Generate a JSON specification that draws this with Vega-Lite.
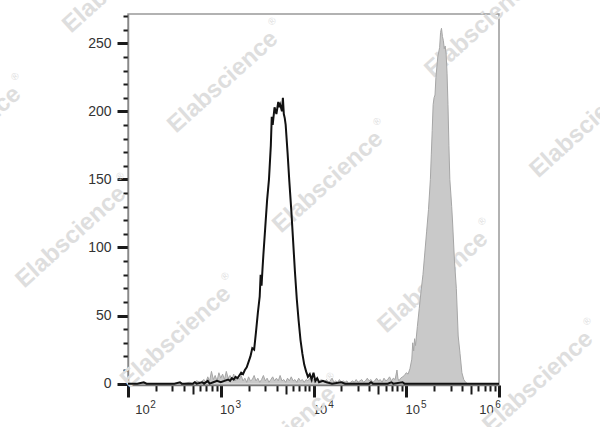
{
  "$schema": "https://vega.github.io/schema/vega-lite/v6.json",
  "width": 371,
  "height": 371,
  "autosize": {"type": "none"},
  "padding": {"left": 128, "top": 14, "right": 101, "bottom": 42},
  "background": "white",
  "config": {
    "view": {"stroke": "#999999", "strokeWidth": 1.5},
    "font": "Liberation Sans"
  },
  "resolve": {"axis": {"x": "independent"}},
  "datasets": {
    "marks": [
      {"x": 78, "count": 295}, {"x": 1.79, "count": 181}, {"x": 1057, "count": 221.5},
      {"x": 14330, "count": 148}, {"x": 194300, "count": 74.6}, {"x": 2633000, "count": 1.2},
      {"x": 24.3, "count": 107.7}, {"x": 329, "count": 34.3}, {"x": 4462, "count": -39.2},
      {"x": 624000, "count": 262}, {"x": 8457000, "count": 188.5}
    ],
    "stained": [
      {"x": 100, "count": 0}, {"x": 398.1, "count": 0}, {"x": 457.1, "count": 1}, {"x": 501.2, "count": 0},
      {"x": 549.5, "count": 2}, {"x": 602.6, "count": 1}, {"x": 660.7, "count": 3}, {"x": 691.8, "count": 1},
      {"x": 724.4, "count": 5}, {"x": 758.6, "count": 2}, {"x": 794.3, "count": 9}, {"x": 831.8, "count": 3},
      {"x": 871.0, "count": 6}, {"x": 912.0, "count": 2}, {"x": 955.0, "count": 8}, {"x": 1000, "count": 4},
      {"x": 1047, "count": 7}, {"x": 1096, "count": 3}, {"x": 1148, "count": 9}, {"x": 1202, "count": 4},
      {"x": 1259, "count": 6}, {"x": 1318, "count": 3}, {"x": 1380, "count": 7}, {"x": 1445, "count": 2},
      {"x": 1514, "count": 5}, {"x": 1585, "count": 3}, {"x": 1660, "count": 6}, {"x": 1738, "count": 2},
      {"x": 1820, "count": 4}, {"x": 1905, "count": 1}, {"x": 1995, "count": 5}, {"x": 2089, "count": 2},
      {"x": 2188, "count": 3}, {"x": 2291, "count": 6}, {"x": 2399, "count": 2}, {"x": 2512, "count": 4},
      {"x": 2630, "count": 1}, {"x": 2754, "count": 3}, {"x": 2884, "count": 6}, {"x": 3020, "count": 2},
      {"x": 3162, "count": 4}, {"x": 3311, "count": 1}, {"x": 3467, "count": 3}, {"x": 3631, "count": 5},
      {"x": 3802, "count": 2}, {"x": 3981, "count": 4}, {"x": 4169, "count": 2}, {"x": 4365, "count": 6},
      {"x": 4571, "count": 2}, {"x": 4786, "count": 3}, {"x": 5012, "count": 1}, {"x": 5248, "count": 4},
      {"x": 5495, "count": 2}, {"x": 5754, "count": 5}, {"x": 6026, "count": 2}, {"x": 6310, "count": 3},
      {"x": 6607, "count": 1}, {"x": 6918, "count": 4}, {"x": 7244, "count": 2}, {"x": 7586, "count": 3},
      {"x": 7943, "count": 1}, {"x": 8318, "count": 3}, {"x": 8710, "count": 2}, {"x": 9120, "count": 4},
      {"x": 9550, "count": 1}, {"x": 10000, "count": 3}, {"x": 10470, "count": 2}, {"x": 10960, "count": 4},
      {"x": 11480, "count": 1}, {"x": 12020, "count": 3}, {"x": 12590, "count": 2}, {"x": 13180, "count": 1},
      {"x": 13800, "count": 3}, {"x": 14450, "count": 1}, {"x": 15140, "count": 2}, {"x": 15850, "count": 4},
      {"x": 16600, "count": 1}, {"x": 17380, "count": 2}, {"x": 18200, "count": 1}, {"x": 19050, "count": 3},
      {"x": 19950, "count": 1}, {"x": 20890, "count": 2}, {"x": 21880, "count": 1}, {"x": 22910, "count": 2},
      {"x": 23990, "count": 0}, {"x": 25120, "count": 1}, {"x": 26300, "count": 2}, {"x": 27540, "count": 1},
      {"x": 28840, "count": 3}, {"x": 30200, "count": 1}, {"x": 31620, "count": 2}, {"x": 33110, "count": 3},
      {"x": 34670, "count": 1}, {"x": 36310, "count": 2}, {"x": 38020, "count": 4}, {"x": 39810, "count": 2},
      {"x": 41690, "count": 3}, {"x": 43650, "count": 1}, {"x": 45710, "count": 2}, {"x": 47860, "count": 4},
      {"x": 50120, "count": 2}, {"x": 52480, "count": 3}, {"x": 54950, "count": 1}, {"x": 57540, "count": 4},
      {"x": 60260, "count": 2}, {"x": 63100, "count": 3}, {"x": 66070, "count": 5}, {"x": 69180, "count": 2},
      {"x": 72440, "count": 4}, {"x": 75860, "count": 3}, {"x": 79430, "count": 10}, {"x": 81280, "count": 4},
      {"x": 83180, "count": 2}, {"x": 87100, "count": 4}, {"x": 91200, "count": 5}, {"x": 95500, "count": 6},
      {"x": 100000, "count": 8}, {"x": 104700, "count": 7}, {"x": 109600, "count": 11}, {"x": 114800, "count": 18},
      {"x": 117500, "count": 30}, {"x": 120200, "count": 24}, {"x": 123000, "count": 33}, {"x": 125900, "count": 28},
      {"x": 131800, "count": 42}, {"x": 138000, "count": 55}, {"x": 144500, "count": 68}, {"x": 151400, "count": 80},
      {"x": 158500, "count": 96}, {"x": 166000, "count": 112}, {"x": 173800, "count": 128}, {"x": 182000, "count": 150},
      {"x": 186200, "count": 168}, {"x": 190500, "count": 186}, {"x": 195000, "count": 205}, {"x": 199500, "count": 210},
      {"x": 204200, "count": 212}, {"x": 208900, "count": 225}, {"x": 218800, "count": 240}, {"x": 229100, "count": 247},
      {"x": 234400, "count": 258}, {"x": 239900, "count": 261}, {"x": 245500, "count": 255}, {"x": 251200, "count": 252},
      {"x": 257000, "count": 246}, {"x": 263000, "count": 248}, {"x": 269200, "count": 242}, {"x": 275400, "count": 228},
      {"x": 281800, "count": 205}, {"x": 288400, "count": 175}, {"x": 295100, "count": 150}, {"x": 302000, "count": 140},
      {"x": 309000, "count": 130}, {"x": 316200, "count": 118}, {"x": 331100, "count": 90}, {"x": 346700, "count": 70},
      {"x": 363100, "count": 35}, {"x": 380200, "count": 22}, {"x": 398100, "count": 8}, {"x": 416900, "count": 3},
      {"x": 436500, "count": 1}, {"x": 457100, "count": 0}, {"x": 1000000, "count": 0}
    ],
    "control": [
      {"x": 100, "count": 0}, {"x": 125.9, "count": 0}, {"x": 147.9, "count": 1}, {"x": 158.5, "count": 0},
      {"x": 316.2, "count": 0}, {"x": 363.1, "count": 1}, {"x": 380.2, "count": 0}, {"x": 501.2, "count": 0},
      {"x": 524.8, "count": 1}, {"x": 549.5, "count": 0}, {"x": 631.0, "count": 1}, {"x": 660.7, "count": 0},
      {"x": 724.4, "count": 2}, {"x": 758.6, "count": 0}, {"x": 831.8, "count": 1}, {"x": 912.0, "count": 2},
      {"x": 1000, "count": 1}, {"x": 1096, "count": 2}, {"x": 1202, "count": 3}, {"x": 1259, "count": 2},
      {"x": 1318, "count": 4}, {"x": 1380, "count": 3}, {"x": 1445, "count": 5}, {"x": 1514, "count": 4},
      {"x": 1585, "count": 6}, {"x": 1660, "count": 8}, {"x": 1738, "count": 7}, {"x": 1820, "count": 10},
      {"x": 1905, "count": 12}, {"x": 1995, "count": 16}, {"x": 2089, "count": 20}, {"x": 2188, "count": 26},
      {"x": 2291, "count": 25}, {"x": 2399, "count": 38}, {"x": 2512, "count": 52}, {"x": 2630, "count": 64},
      {"x": 2692, "count": 80}, {"x": 2754, "count": 72}, {"x": 2818, "count": 84}, {"x": 2884, "count": 95},
      {"x": 3020, "count": 115}, {"x": 3162, "count": 135}, {"x": 3311, "count": 150}, {"x": 3467, "count": 175},
      {"x": 3548, "count": 196}, {"x": 3631, "count": 190}, {"x": 3802, "count": 203}, {"x": 3981, "count": 198},
      {"x": 4169, "count": 207}, {"x": 4266, "count": 203}, {"x": 4365, "count": 205}, {"x": 4571, "count": 200},
      {"x": 4677, "count": 210}, {"x": 4786, "count": 198}, {"x": 4898, "count": 195}, {"x": 5012, "count": 190},
      {"x": 5248, "count": 170}, {"x": 5495, "count": 148}, {"x": 5754, "count": 128}, {"x": 6026, "count": 105},
      {"x": 6310, "count": 82}, {"x": 6607, "count": 62}, {"x": 6918, "count": 46}, {"x": 7244, "count": 32},
      {"x": 7586, "count": 22}, {"x": 7943, "count": 14}, {"x": 8318, "count": 9}, {"x": 8710, "count": 5},
      {"x": 9120, "count": 7}, {"x": 9550, "count": 3}, {"x": 10000, "count": 8}, {"x": 10470, "count": 2},
      {"x": 10960, "count": 4}, {"x": 11480, "count": 1}, {"x": 12590, "count": 2}, {"x": 13800, "count": 1},
      {"x": 15850, "count": 0}, {"x": 19950, "count": 1}, {"x": 21880, "count": 0}, {"x": 39810, "count": 0},
      {"x": 41690, "count": 1}, {"x": 43650, "count": 0}, {"x": 63100, "count": 0}, {"x": 69180, "count": 1},
      {"x": 72440, "count": 0}, {"x": 91200, "count": 1}, {"x": 95500, "count": 0}, {"x": 1000000, "count": 0}
    ]
  },
  "encoding": {
    "x": {
      "field": "x", "type": "quantitative",
      "scale": {"type": "log", "domain": [100, 1000000], "nice": false},
      "axis": {
        "orient": "bottom",
        "title": null, "grid": false,
        "values": [100, 200, 300, 400, 500, 600, 700, 800, 900, 1000, 2000, 3000, 4000, 5000, 6000, 7000, 8000, 9000, 10000, 20000, 30000, 40000, 50000, 60000, 70000, 80000, 90000, 100000, 200000, 300000, 400000, 500000, 600000, 700000, 800000, 900000, 1000000],
        "labelExpr": "indexof([100,1000,10000,100000,1000000], datum.value) >= 0 ? '10' : ''",
        "tickSize": {"condition": [{"test": "indexof([100,1000,10000,100000,1000000], datum.value) >= 0", "value": 12}, {"test": "indexof([500,5000,50000,500000], datum.value) >= 0", "value": 9}], "value": 6},
        "tickWidth": {"condition": {"test": "indexof([100,1000,10000,100000,1000000], datum.value) >= 0", "value": 3}, "value": 2},
        "tickColor": "#1a1a1a",
        "domainColor": "#777777", "domainWidth": 1.5,
        "labelOffset": {"condition": [{"test": "datum.value == 100", "value": 14}, {"test": "datum.value == 1000000", "value": -13}], "value": 6},
        "labelPadding": 6,
        "labelFont": "Liberation Sans", "labelFontSize": 13, "labelColor": "#333333",
        "labelOverlap": false, "labelFlush": false, "labelBound": false
      }
    },
    "y": {
      "field": "count", "type": "quantitative",
      "scale": {"domain": [-1, 271.5], "nice": false, "zero": false},
      "axis": {
        "title": null, "grid": false,
        "values": [0, 10, 20, 30, 40, 50, 60, 70, 80, 90, 100, 110, 120, 130, 140, 150, 160, 170, 180, 190, 200, 210, 220, 230, 240, 250, 260, 270],
        "labelExpr": "datum.value % 50 == 0 ? datum.label : ''",
        "tickSize": {"condition": {"test": "datum.value % 50 == 0", "value": 11}, "value": 5},
        "tickWidth": {"condition": {"test": "datum.value % 50 == 0", "value": 3}, "value": 2},
        "tickColor": "#1a1a1a",
        "domainColor": "#888888", "domainWidth": 1.5,
        "labelPadding": 6,
        "labelFont": "Liberation Sans", "labelFontSize": 14, "labelColor": "#333333",
        "labelOverlap": false
      }
    }
  },
  "layer": [
    {
      "data": {"name": "marks"},
      "encoding": {"x": {"field": "x", "type": "quantitative", "scale": {"type": "log", "domain": [100, 1000000], "nice": false}, "axis": null}},
      "mark": {"type": "text", "text": "Elabscience", "angle": -42, "align": "center", "baseline": "middle", "font": "Liberation Sans", "fontWeight": "bold", "fontSize": 24, "color": "#dedede"}
    },
    {
      "data": {"name": "marks"},
      "encoding": {"x": {"field": "x", "type": "quantitative", "scale": {"type": "log", "domain": [100, 1000000], "nice": false}, "axis": null}},
      "mark": {"type": "text", "text": "®", "angle": -42, "align": "center", "baseline": "middle", "font": "Liberation Sans", "fontSize": 10, "dx": 77, "dy": -12, "color": "#dedede"}
    },
    {
      "data": {"name": "stained"},
      "mark": {"type": "area", "color": "#c9c9c9", "interpolate": "linear"}
    },
    {
      "data": {"name": "stained"},
      "encoding": {"x": {"field": "x", "type": "quantitative", "scale": {"type": "log", "domain": [100, 1000000], "nice": false}, "axis": null}},
      "mark": {"type": "line", "color": "#a6a6a6", "strokeWidth": 1, "interpolate": "linear"}
    },
    {
      "data": {"name": "control"},
      "encoding": {"x": {"field": "x", "type": "quantitative", "scale": {"type": "log", "domain": [100, 1000000], "nice": false},
        "axis": {
          "orient": "bottom",
          "title": null, "grid": false, "domain": false, "ticks": false,
          "values": [100, 1000, 10000, 100000, 1000000],
          "labelExpr": "datum.value == 100 ? '2' : datum.value == 1000 ? '3' : datum.value == 10000 ? '4' : datum.value == 100000 ? '5' : '6'",
          "labelOffset": {"condition": [{"test": "datum.value == 100", "value": 24.5}, {"test": "datum.value == 1000000", "value": -1.5}], "value": 17}, 
          "labelPadding": 14,
          "labelFont": "Liberation Sans", "labelFontSize": 10, "labelColor": "#333333",
          "labelOverlap": false, "labelFlush": false, "labelBound": false
        }}},
      "mark": {"type": "line", "color": "#111111", "strokeWidth": 2, "interpolate": "linear"}
    }
  ]
}
